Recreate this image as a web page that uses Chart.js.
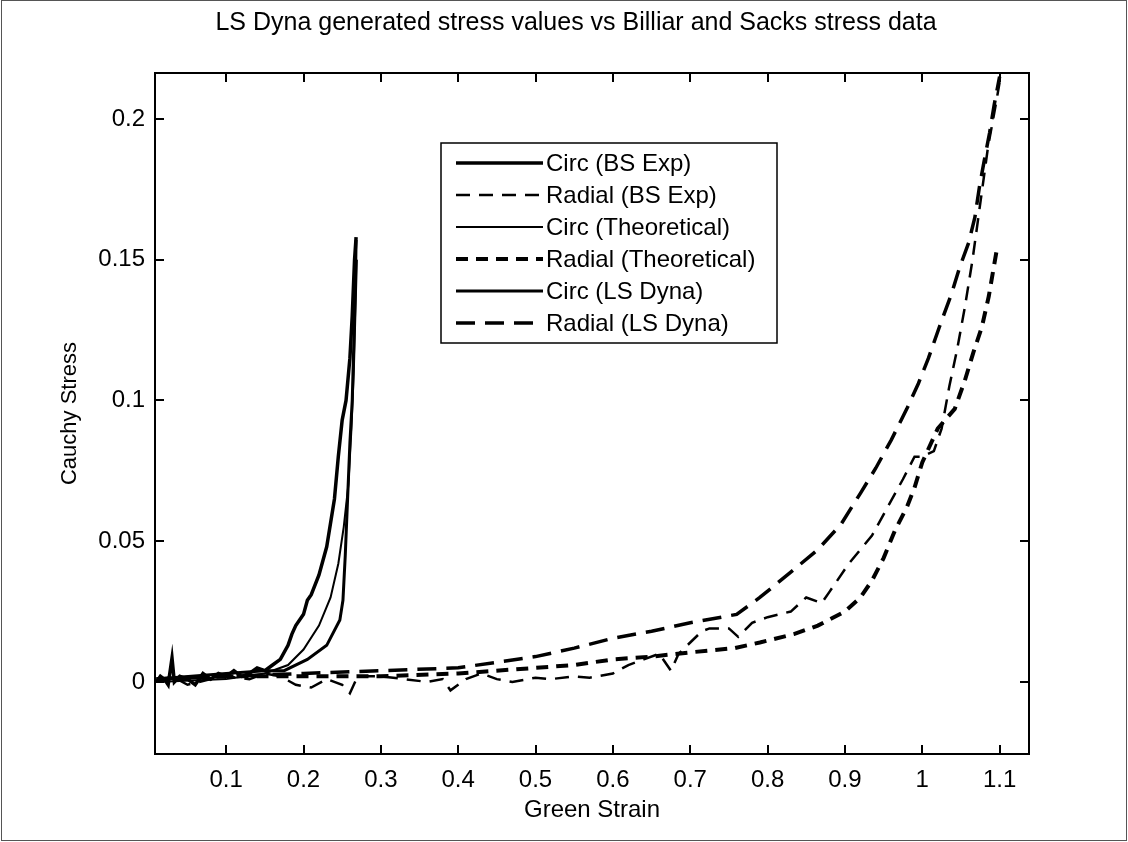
<!DOCTYPE html>
<html>
<head>
<meta charset="utf-8">
<script src="https://cdn.jsdelivr.net/npm/chart.js@4.4.1/dist/chart.umd.min.js"></script>
<style>
  html, body { margin: 0; padding: 0; background: #fff; }
  #wrap { width: 1128px; height: 842px; }
</style>
</head>
<body>
<div id="wrap"><canvas id="grafico"></canvas></div>
<script>
// valori (Green strain / Cauchy stress)
var circBsX = [0.01,0.015,0.02,0.025,0.03,0.033,0.04,0.05,0.06,0.07,0.08,0.09,0.1,0.11,0.12,0.13,0.14,0.15,0.16,0.17,0.18,0.185,0.19,0.2,0.205,0.21,0.22,0.23,0.24,0.245,0.25,0.255,0.26,0.263,0.266,0.268];
var circBsY = [0,0.002,0.001,-0.001,0.0085,0,0.002,0.001,-0.001,0.003,0.001,0.003,0.002,0.004,0.002,0.003,0.005,0.004,0.006,0.008,0.013,0.017,0.02,0.024,0.029,0.031,0.038,0.048,0.065,0.08,0.093,0.1,0.115,0.13,0.15,0.158];

var radBsX = [0.01,0.03,0.05,0.08,0.1,0.13,0.15,0.17,0.19,0.21,0.23,0.25,0.26,0.27,0.3,0.33,0.36,0.38,0.39,0.41,0.43,0.45,0.47,0.5,0.52,0.55,0.57,0.6,0.62,0.64,0.66,0.675,0.685,0.7,0.715,0.725,0.75,0.762,0.78,0.8,0.83,0.85,0.87,0.88,0.89,0.905,0.92,0.935,0.955,0.975,0.99,1.0,1.015,1.025,1.035,1.045,1.055,1.065,1.075,1.085,1.095,1.1];
var radBsY = [0,0.002,-0.001,0.001,0.002,0.001,0.003,0.002,-0.001,-0.002,0.001,-0.001,-0.004,0.002,0.002,0.001,0,0.001,-0.003,0.001,0.003,0.001,0,0.0015,0.001,0.002,0.0015,0.003,0.006,0.008,0.01,0.004,0.01,0.014,0.018,0.019,0.019,0.016,0.021,0.023,0.025,0.03,0.028,0.032,0.036,0.042,0.047,0.052,0.062,0.072,0.08,0.08,0.082,0.09,0.105,0.118,0.133,0.15,0.17,0.19,0.205,0.213];

var circThX = [0.01,0.1,0.15,0.18,0.2,0.22,0.235,0.245,0.252,0.258,0.262,0.265,0.267,0.269];
var circThY = [0,0.001,0.003,0.006,0.0115,0.02,0.03,0.042,0.055,0.07,0.09,0.11,0.13,0.15];

var radThX = [0.01,0.1,0.2,0.3,0.4,0.5,0.55,0.6,0.65,0.7,0.757,0.79,0.834,0.865,0.9,0.92,0.935,0.95,0.965,0.98,0.99,1.0,1.02,1.042,1.055,1.066,1.077,1.086,1.096];
var radThY = [0.001,0.002,0.002,0.002,0.003,0.005,0.006,0.008,0.009,0.0105,0.012,0.014,0.017,0.02,0.025,0.03,0.036,0.044,0.054,0.062,0.069,0.078,0.09,0.097,0.107,0.117,0.126,0.137,0.153];

var circLsX = [0.01,0.1,0.15,0.175,0.205,0.23,0.247,0.251,0.254,0.257,0.26,0.263,0.265,0.267,0.268];
var circLsY = [0.001,0.003,0.004,0.004,0.008,0.013,0.022,0.029,0.045,0.065,0.085,0.1,0.12,0.14,0.157];

var radLsX = [0.01,0.1,0.2,0.3,0.4,0.45,0.5,0.55,0.6,0.65,0.7,0.76,0.79,0.83,0.865,0.895,0.92,0.94,0.96,0.98,0.995,1.008,1.022,1.038,1.048,1.06,1.068,1.074,1.08,1.087,1.093,1.1];
var radLsY = [0.001,0.002,0.003,0.004,0.005,0.007,0.009,0.012,0.0155,0.018,0.021,0.024,0.03,0.039,0.047,0.056,0.067,0.076,0.086,0.097,0.106,0.115,0.126,0.138,0.147,0.156,0.165,0.176,0.185,0.195,0.205,0.215];

var nomi = ['Circ (BS Exp)','Radial (BS Exp)','Circ (Theoretical)','Radial (Theoretical)','Circ (LS Dyna)','Radial (LS Dyna)'];
var xTicks = [0.1,0.2,0.3,0.4,0.5,0.6,0.7,0.8,0.9,1,1.1];
var yTicks = [0,0.05,0.1,0.15,0.2];

function punti(xs, ys){
  var r = [];
  for (var i = 0; i < xs.length; i++) r.push({x: xs[i], y: ys[i]});
  return r;
}

function serie(nome, xs, ys, w, dash){
  return {
    label: nome,
    data: punti(xs, ys),
    showLine: true,
    borderColor: '#000',
    borderWidth: w,
    borderDash: dash,
    pointRadius: 0,
    fill: false,
    tension: 0
  };
}

var FONT = 'Liberation Sans, Arial, sans-serif';

// riquadro, tacche interne e legenda in stile matlab
var cornice = {
  id: 'cornice',
  afterDraw: function(chart){
    var ctx = chart.ctx, a = chart.chartArea;
    var sx = chart.scales.x, sy = chart.scales.y;
    ctx.save();
    ctx.strokeStyle = '#000';
    ctx.lineWidth = 2;
    ctx.strokeRect(a.left, a.top, a.right - a.left, a.bottom - a.top);
    ctx.beginPath();
    xTicks.forEach(function(v){
      var p = Math.round(sx.getPixelForValue(v));
      ctx.moveTo(p, a.bottom); ctx.lineTo(p, a.bottom - 9);
      ctx.moveTo(p, a.top); ctx.lineTo(p, a.top + 9);
    });
    yTicks.forEach(function(v){
      var p = Math.round(sy.getPixelForValue(v));
      ctx.moveTo(a.left, p); ctx.lineTo(a.left + 9, p);
      ctx.moveTo(a.right, p); ctx.lineTo(a.right - 9, p);
    });
    ctx.stroke();

    // legenda
    var lx = 441, ly = 143, lw = 336, rh = 32;
    var lh = rh * nomi.length + 8;
    ctx.fillStyle = '#fff';
    ctx.fillRect(lx, ly, lw, lh);
    ctx.lineWidth = 1.5;
    ctx.strokeRect(lx, ly, lw, lh);
    ctx.font = '24px ' + FONT;
    ctx.textBaseline = 'middle';
    chart.data.datasets.forEach(function(ds, i){
      var yy = ly + 20 + i * rh;
      ctx.beginPath();
      ctx.lineWidth = ds.borderWidth;
      ctx.setLineDash(ds.borderDash || []);
      ctx.moveTo(lx + 15, yy); ctx.lineTo(lx + 102, yy);
      ctx.stroke();
      ctx.setLineDash([]);
      ctx.fillStyle = '#000';
      ctx.fillText(ds.label, lx + 105, yy + 1);
    });

    // bordo figura
    ctx.lineWidth = 1;
    ctx.strokeStyle = '#555';
    ctx.strokeRect(1.5, 0.5, chart.width - 3, chart.height - 2);
    ctx.restore();
  }
};

var chart = new Chart(document.getElementById('grafico'), {
  type: 'scatter',
  data: {
    datasets: [
      serie(nomi[0], circBsX, circBsY, 3.5, []),
      serie(nomi[1], radBsX, radBsY, 2.5, [14, 9]),
      serie(nomi[2], circThX, circThY, 2, []),
      serie(nomi[3], radThX, radThY, 4, [12, 8]),
      serie(nomi[4], circLsX, circLsY, 3, []),
      serie(nomi[5], radLsX, radLsY, 3.5, [19, 10])
    ]
  },
  plugins: [cornice],
  options: {
    responsive: true,
    maintainAspectRatio: false,
    animation: false,
    devicePixelRatio: 1,
    layout: { padding: { left: 24, right: 0, top: 0, bottom: 0 } },
    plugins: {
      legend: { display: false },
      tooltip: { enabled: false },
      title: {
        display: true,
        text: 'LS Dyna generated stress values vs Billiar and Sacks stress data',
        color: '#000',
        font: { family: FONT, size: 25, weight: 'normal', lineHeight: 1.2 },
        padding: { top: 8, bottom: 35 }
      }
    },
    scales: {
      x: {
        type: 'linear',
        min: 0.008,
        max: 1.138,
        afterFit: function(s){ s.height = 88; },
        grid: { display: false, drawTicks: false },
        border: { display: false },
        ticks: {
          stepSize: 0.1,
          includeBounds: false,
          padding: 12,
          color: '#000',
          font: { family: FONT, size: 24 },
          callback: function(v){ return String(+v.toFixed(2)); }
        },
        title: {
          display: true,
          text: 'Green Strain',
          color: '#000',
          font: { family: FONT, size: 24, lineHeight: 1.2 },
          padding: { top: 0, bottom: 17 }
        }
      },
      y: {
        type: 'linear',
        min: -0.0256,
        max: 0.2163,
        afterFit: function(s){ s.width = 131; },
        grid: { display: false, drawTicks: false },
        border: { display: false },
        ticks: {
          stepSize: 0.05,
          includeBounds: false,
          padding: 10,
          color: '#000',
          font: { family: FONT, size: 24 },
          callback: function(v){ return String(+v.toFixed(3)); }
        },
        title: {
          display: true,
          text: 'Cauchy Stress',
          color: '#000',
          font: { family: FONT, size: 22, lineHeight: 1.2 },
          padding: { top: 33, bottom: 0 }
        }
      },
      // asse vuoto a destra: tiene il riquadro alla larghezza del riferimento
      y2: {
        position: 'right',
        afterFit: function(s){ s.width = 99; },
        grid: { display: false, drawTicks: false },
        border: { display: false },
        ticks: { display: false }
      }
    }
  }
});
</script>
</body>
</html>
